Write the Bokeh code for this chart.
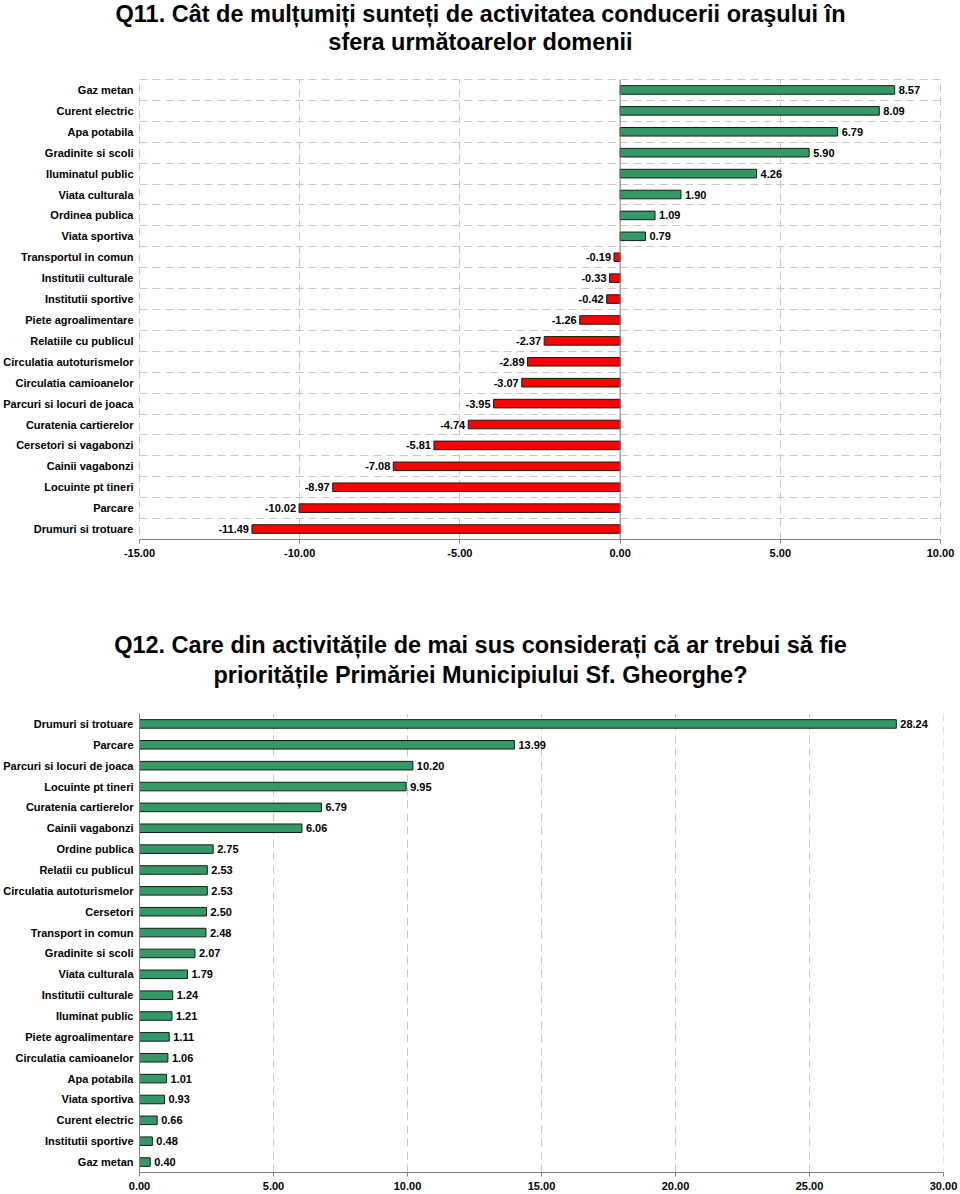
from bokeh.plotting import figure
from bokeh.models import (FactorRange, Range1d, FixedTicker, NumeralTickFormatter,
                          Span, ColumnDataSource)
from bokeh.layouts import column
from bokeh.embed import file_html
from bokeh.resources import INLINE
from bokeh.core.properties import value

# ---------------- data ----------------
q11_title = ["Q11. Cât de mulțumiți sunteți de activitatea conducerii oraşului în",
             "sfera următoarelor domenii"]
q11_categories = ["Gaz metan", "Curent electric", "Apa potabila", "Gradinite si scoli",
                  "Iluminatul public", "Viata culturala", "Ordinea publica", "Viata sportiva",
                  "Transportul in comun", "Institutii culturale", "Institutii sportive",
                  "Piete agroalimentare", "Relatiile cu publicul", "Circulatia autoturismelor",
                  "Circulatia camioanelor", "Parcuri si locuri de joaca", "Curatenia cartierelor",
                  "Cersetori si vagabonzi", "Cainii vagabonzi", "Locuinte pt tineri",
                  "Parcare", "Drumuri si trotuare"]
q11_values = [8.57, 8.09, 6.79, 5.90, 4.26, 1.90, 1.09, 0.79, -0.19, -0.33, -0.42,
              -1.26, -2.37, -2.89, -3.07, -3.95, -4.74, -5.81, -7.08, -8.97, -10.02, -11.49]
q11_ticks = [-15, -10, -5, 0, 5, 10]

q12_title = ["Q12. Care din activitățile de mai sus considerați că ar trebui să fie",
             "prioritățile Primăriei Municipiului Sf. Gheorghe?"]
q12_categories = ["Drumuri si trotuare", "Parcare", "Parcuri si locuri de joaca",
                  "Locuinte pt tineri", "Curatenia cartierelor", "Cainii vagabonzi",
                  "Ordine publica", "Relatii cu publicul", "Circulatia autoturismelor",
                  "Cersetori", "Transport in comun", "Gradinite si scoli", "Viata culturala",
                  "Institutii culturale", "Iluminat public", "Piete agroalimentare",
                  "Circulatia camioanelor", "Apa potabila", "Viata sportiva",
                  "Curent electric", "Institutii sportive", "Gaz metan"]
q12_values = [28.24, 13.99, 10.20, 9.95, 6.79, 6.06, 2.75, 2.53, 2.53, 2.50, 2.48,
              2.07, 1.79, 1.24, 1.21, 1.11, 1.06, 1.01, 0.93, 0.66, 0.48, 0.40]
q12_ticks = [0, 5, 10, 15, 20, 25, 30]

# ---------------- style ----------------
FONT = "Liberation Sans"
GREEN = "#339966"
RED = "#FF0000"
GRID = "#C8C8C8"
AXIS = "#808080"
BAR_LINE = "#1a1a1a"
DASH = "8 5"
W = 960


def title_fig(lines, baselines, size, height):
    t = figure(width=W, height=height, x_range=Range1d(0, W), y_range=Range1d(height, 0),
               output_backend="svg", toolbar_location=None, frame_align=False,
               title=None, x_axis_location=None, y_axis_location=None, min_border=0)
    t.grid.grid_line_color = None
    t.outline_line_color = None
    t.background_fill_color = "white"
    t.border_fill_color = "white"
    t.text(x=[W / 2] * len(lines), y=baselines, text=lines, text_align="center",
           text_baseline="alphabetic", text_font=value(FONT), text_font_size=size,
           text_font_style="bold", text_color="black")
    return t


def make_fig(cats, xr, ticks, height, top, bottom, right):
    p = figure(width=W, height=height,
               y_range=FactorRange(factors=list(reversed(cats))),
               x_range=Range1d(xr[0], xr[1]),
               output_backend="svg", toolbar_location=None, frame_align=False,
               title=None,
               min_border_left=139, min_border_right=right,
               min_border_top=top, min_border_bottom=bottom)
    p.background_fill_color = "white"
    p.border_fill_color = "white"
    xa = p.xaxis[0]
    xa.ticker = FixedTicker(ticks=ticks)
    xa.formatter = NumeralTickFormatter(format="0.00")
    xa.axis_line_color = AXIS
    xa.major_tick_line_color = AXIS
    xa.major_tick_out = 4
    xa.major_tick_in = 0
    xa.minor_tick_line_color = None
    xa.major_label_standoff = 5
    xa.major_label_text_font = FONT
    xa.major_label_text_font_size = "11px"
    xa.major_label_text_font_style = "bold"
    xa.major_label_text_color = "black"
    ya = p.yaxis[0]
    ya.major_tick_line_color = None
    ya.major_tick_out = 0
    ya.major_tick_in = 0
    ya.minor_tick_line_color = None
    ya.major_label_standoff = 6
    ya.major_label_text_font = FONT
    ya.major_label_text_font_size = "11px"
    ya.major_label_text_font_style = "bold"
    ya.major_label_text_color = "black"
    p.xgrid.ticker = FixedTicker(ticks=ticks)
    p.xgrid.grid_line_color = GRID
    p.xgrid.grid_line_dash = DASH
    p.xgrid.grid_line_width = 1
    return p


# ---------------- Q11 ----------------
t1 = title_fig(q11_title, [13, 41], "23.5px", 62)

p1 = make_fig(q11_categories, (q11_ticks[0], q11_ticks[-1]), q11_ticks, 538,
              top=17, bottom=61, right=20)
p1.yaxis[0].axis_line_color = None
p1.ygrid.ticker = FixedTicker(ticks=list(range(1, len(q11_categories))))
p1.ygrid.grid_line_color = GRID
p1.ygrid.grid_line_dash = DASH
p1.outline_line_color = GRID
p1.outline_line_dash = DASH

colors1 = [GREEN if v >= 0 else RED for v in q11_values]
src1 = ColumnDataSource(dict(cat=q11_categories, val=q11_values, color=colors1))
p1.hbar(y="cat", left=0, right="val", height=0.41, fill_color="color",
        line_color=BAR_LINE, line_width=1, source=src1)
p1.add_layout(Span(location=0, dimension="height", line_color=AXIS, line_width=1))

pos = [(c, v) for c, v in zip(q11_categories, q11_values) if v >= 0]
neg = [(c, v) for c, v in zip(q11_categories, q11_values) if v < 0]
p1.text(x=[v for _, v in pos], y=[c for c, _ in pos], text=[f"{v:.2f}" for _, v in pos],
        x_offset=4, text_align="left", text_baseline="middle",
        text_font=value(FONT), text_font_size="11px", text_font_style="bold",
        text_color="black")
p1.text(x=[v for _, v in neg], y=[c for c, _ in neg], text=[f"{v:.2f}" for _, v in neg],
        x_offset=-3, text_align="right", text_baseline="middle",
        text_font=value(FONT), text_font_size="11px", text_font_style="bold",
        text_color="black")

# ---------------- Q12 ----------------
t2 = title_fig(q12_title, [44, 74], "23.5px", 100)

p2 = make_fig(q12_categories, (q12_ticks[0], q12_ticks[-1]), q12_ticks, 494,
              top=13, bottom=22, right=17)
p2.yaxis[0].axis_line_color = AXIS
p2.ygrid.grid_line_color = None
p2.outline_line_color = None
p2.add_layout(Span(location=q12_ticks[-1], dimension="height", line_color=GRID,
                   line_dash=DASH, line_width=1))

src2 = ColumnDataSource(dict(cat=q12_categories, val=q12_values,
                             lab=[f"{v:.2f}" for v in q12_values]))
p2.hbar(y="cat", left=0, right="val", height=0.41, fill_color=GREEN,
        line_color=BAR_LINE, line_width=1, source=src2)
p2.text(x="val", y="cat", text="lab", x_offset=4, text_align="left",
        text_baseline="middle", text_font=value(FONT), text_font_size="11px",
        text_font_style="bold", text_color="black", source=src2)

layout = column(t1, p1, t2, p2, spacing=0)
open("out.html", "w").write(file_html(layout, INLINE))
